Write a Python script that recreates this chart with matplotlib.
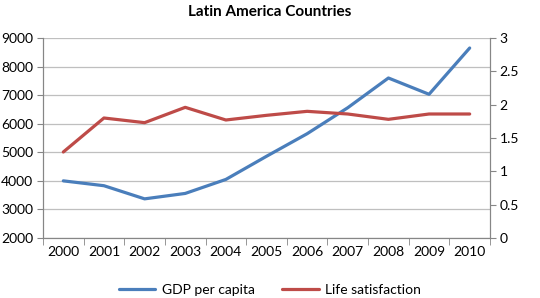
import matplotlib
matplotlib.use("Agg")
import matplotlib.pyplot as plt
import numpy as np

plt.rcParams['font.family'] = ['Lato', 'DejaVu Sans']

years = ['2000', '2001', '2002', '2003', '2004', '2005', '2006', '2007', '2008', '2009', '2010']
gdp = [4000, 3830, 3370, 3560, 4050, 4860, 5650, 6560, 7600, 7030, 8650]
life = [1.29, 1.80, 1.73, 1.96, 1.77, 1.84, 1.90, 1.86, 1.78, 1.86, 1.86]

blue = '#4A7EBB'
red = '#BE4B48'
axcol = '#868686'

fig = plt.figure(figsize=(5.4, 2.98), dpi=100)
ax = fig.add_axes([43/540, 1 - 238/298, 447/540, 200/298])
ax2 = ax.twinx()

x = np.arange(len(years))
l1, = ax.plot(x, gdp, color=blue, lw=2.3, solid_capstyle='round', label='GDP per capita')
l2, = ax2.plot(x, life, color=red, lw=2.3, solid_capstyle='round', label='Life satisfaction')

ax.set_xlim(-0.5, len(years) - 0.5)
ax.set_ylim(2000, 9000)
ax.set_yticks(range(2000, 9001, 1000))
ax2.set_ylim(0, 3)
ax2.set_yticks([0, 0.5, 1, 1.5, 2, 2.5, 3])
ax2.set_yticklabels(['0', '0.5', '1', '1.5', '2', '2.5', '3'])

ax.set_xticks(x)
ax.set_xticklabels(years)
ax.set_xticks(np.arange(-0.5, len(years), 1), minor=True)
ax.tick_params(axis='x', which='major', length=0, pad=6, labelsize=10)
ax.tick_params(axis='x', which='minor', length=5, color=axcol, direction='out')
ax.tick_params(axis='y', length=4, color=axcol, labelsize=10, pad=3)
ax2.tick_params(axis='y', length=4, color=axcol, labelsize=10, pad=3)

ax.grid(axis='y', color='#BFBFBF', lw=0.9)
ax.set_axisbelow(True)
for a in (ax, ax2):
    a.spines['top'].set_visible(False)
    for s in ('left', 'right', 'bottom'):
        a.spines[s].set_color(axcol)

fig.text(0.5, 1 - 12/298, 'Latin America Countries', ha='center', va='center',
         fontsize=11, fontweight='bold')

fig.legend(handles=[l1, l2], loc='center', bbox_to_anchor=(0.5, 1 - 290/298),
           ncol=2, frameon=False, fontsize=10, handlelength=2.6, columnspacing=2.0,
           handletextpad=0.5)

fig.savefig('out.png', dpi=100)
